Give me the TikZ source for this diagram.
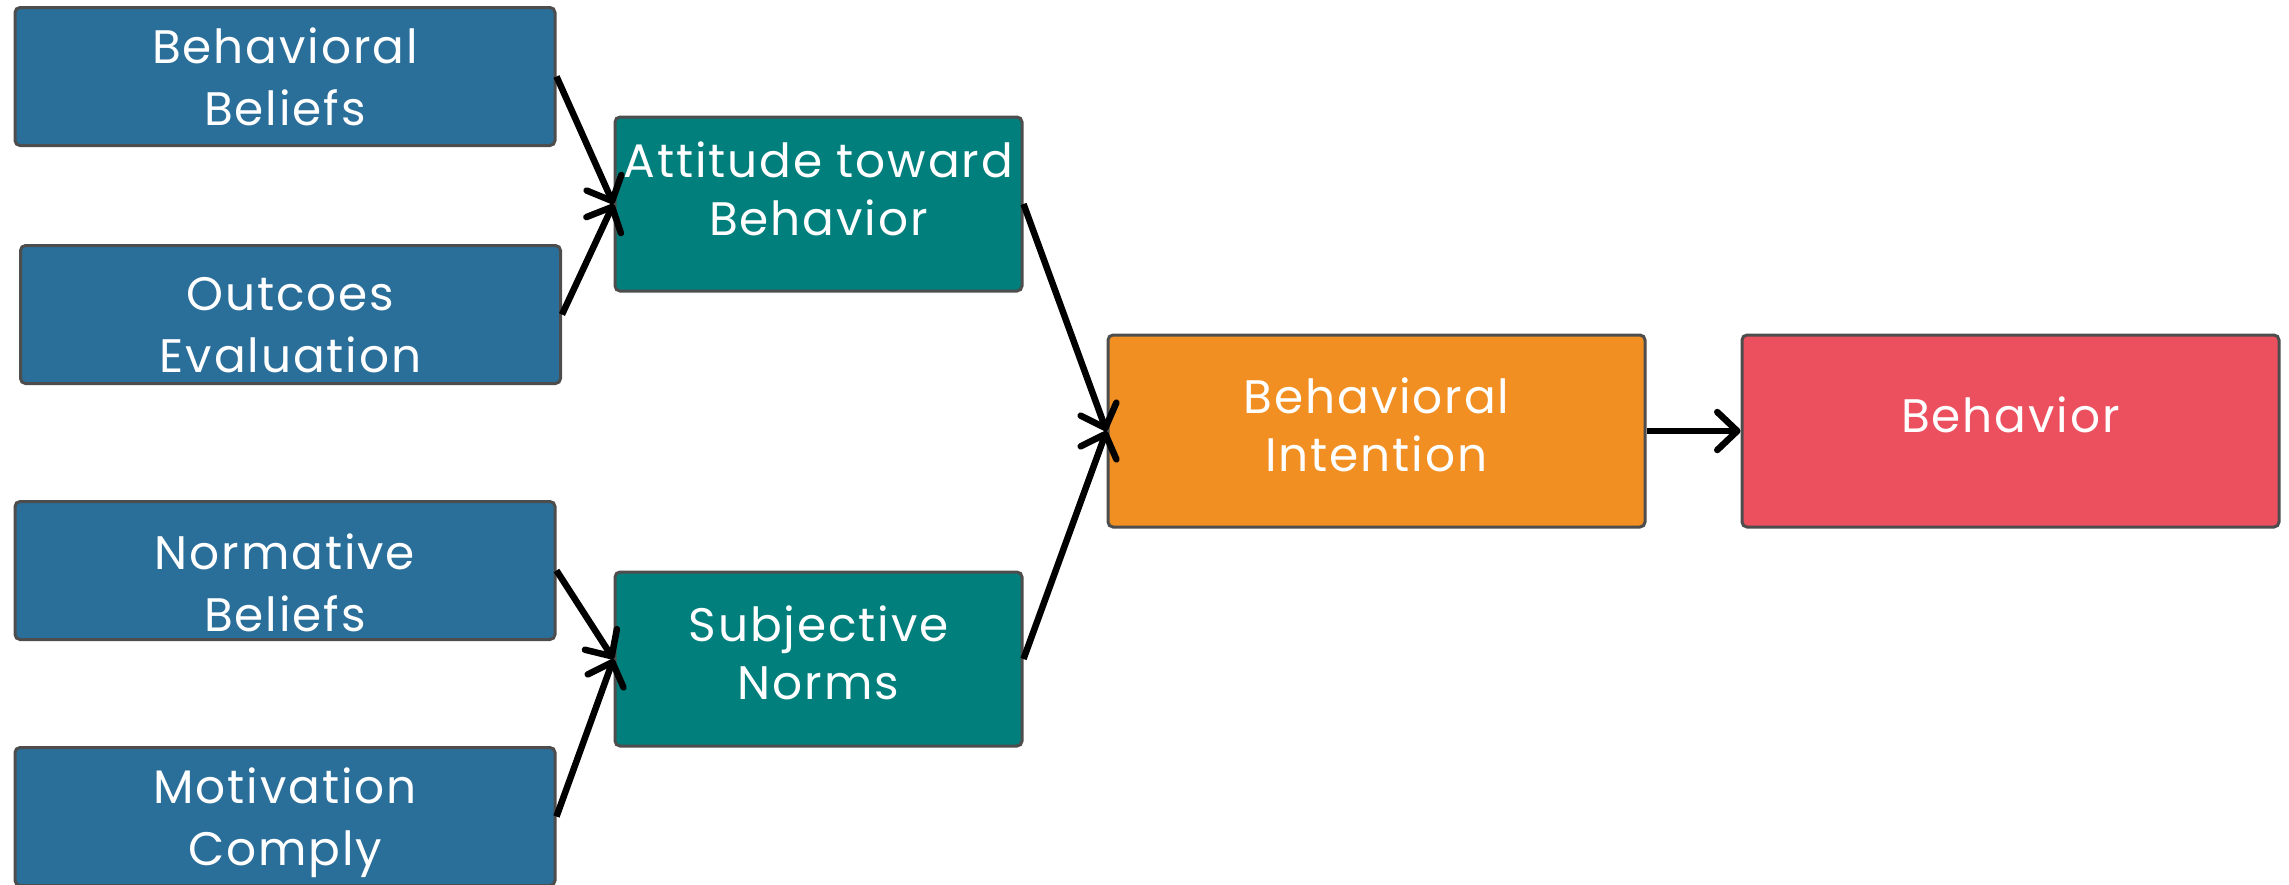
\documentclass[tikz,border=0pt]{standalone}
\usepackage{fontspec}
\setmainfont[LetterSpace=4]{Poppins}
\usetikzlibrary{arrows.meta}
\definecolor{beliefblue}{HTML}{2A6E9A}
\definecolor{factorteal}{HTML}{007F7C}
\definecolor{intentorange}{HTML}{F18F22}
\definecolor{behavred}{HTML}{EC4F5E}
\definecolor{boxline}{HTML}{4D4D4D}
\begin{document}
\begin{tikzpicture}[x=1pt, y=-1pt,
		box/.style={draw=boxline, line width=3pt, rounded corners=5pt, text=white, align=center, inner sep=2pt},
		belief/.style={box, fill=beliefblue, minimum width=540pt, minimum height=138pt, font=\fontsize{47}{62}\selectfont},
		factor/.style={box, fill=factorteal, minimum width=407pt, minimum height=174pt, font=\fontsize{47}{58}\selectfont},
		outcome/.style={box, minimum width=537pt, minimum height=192pt, font=\fontsize{47}{58}\selectfont},
		link/.style={draw, line width=6.5pt, -{Straight Barb[round, length=20pt, width=38pt]}}]
		\useasboundingbox (0,0) rectangle (2289,884);
		\clip (0,0) rectangle (2289,884);
		% beliefs
		\node[belief](bb) at (285,76.5) {Behavioral\\Beliefs};
		\node[belief, text height=116pt](oe) at (290.5,314.5) {Outcoes\\Evaluation};
		\node[belief, text height=122pt](nb) at (285,570.5) {Normative\\Beliefs};
		\node[belief, text depth=0pt](mc) at (285,816.5) {Motivation\\Comply};
		% attitude and norms
		\node[factor, text depth=30pt](atb) at (818.5,204) {Attitude toward\\Behavior};
		\node[factor, text depth=12pt](sn) at (818.5,659) {Subjective\\Norms};
		% intention and behavior
		\node[outcome, fill=intentorange, text depth=12pt](bi) at (1376.5,431) {Behavioral\\Intention};
		\node[outcome, fill=behavred, text depth=32pt](bh) at (2010.5,431) {Behavior};
		\draw[link] (bb.east) -- (atb.west);
		\draw[link] (oe.east) -- (atb.west);
		\draw[link] (nb.east) -- (sn.west);
		\draw[link] (mc.east) -- (sn.west);
		\draw[link] (atb.east) -- (bi.west);
		\draw[link] (sn.east) -- (bi.west);
		\draw[link] (bi.east) -- (bh.west);
	\end{tikzpicture}
\end{document}
